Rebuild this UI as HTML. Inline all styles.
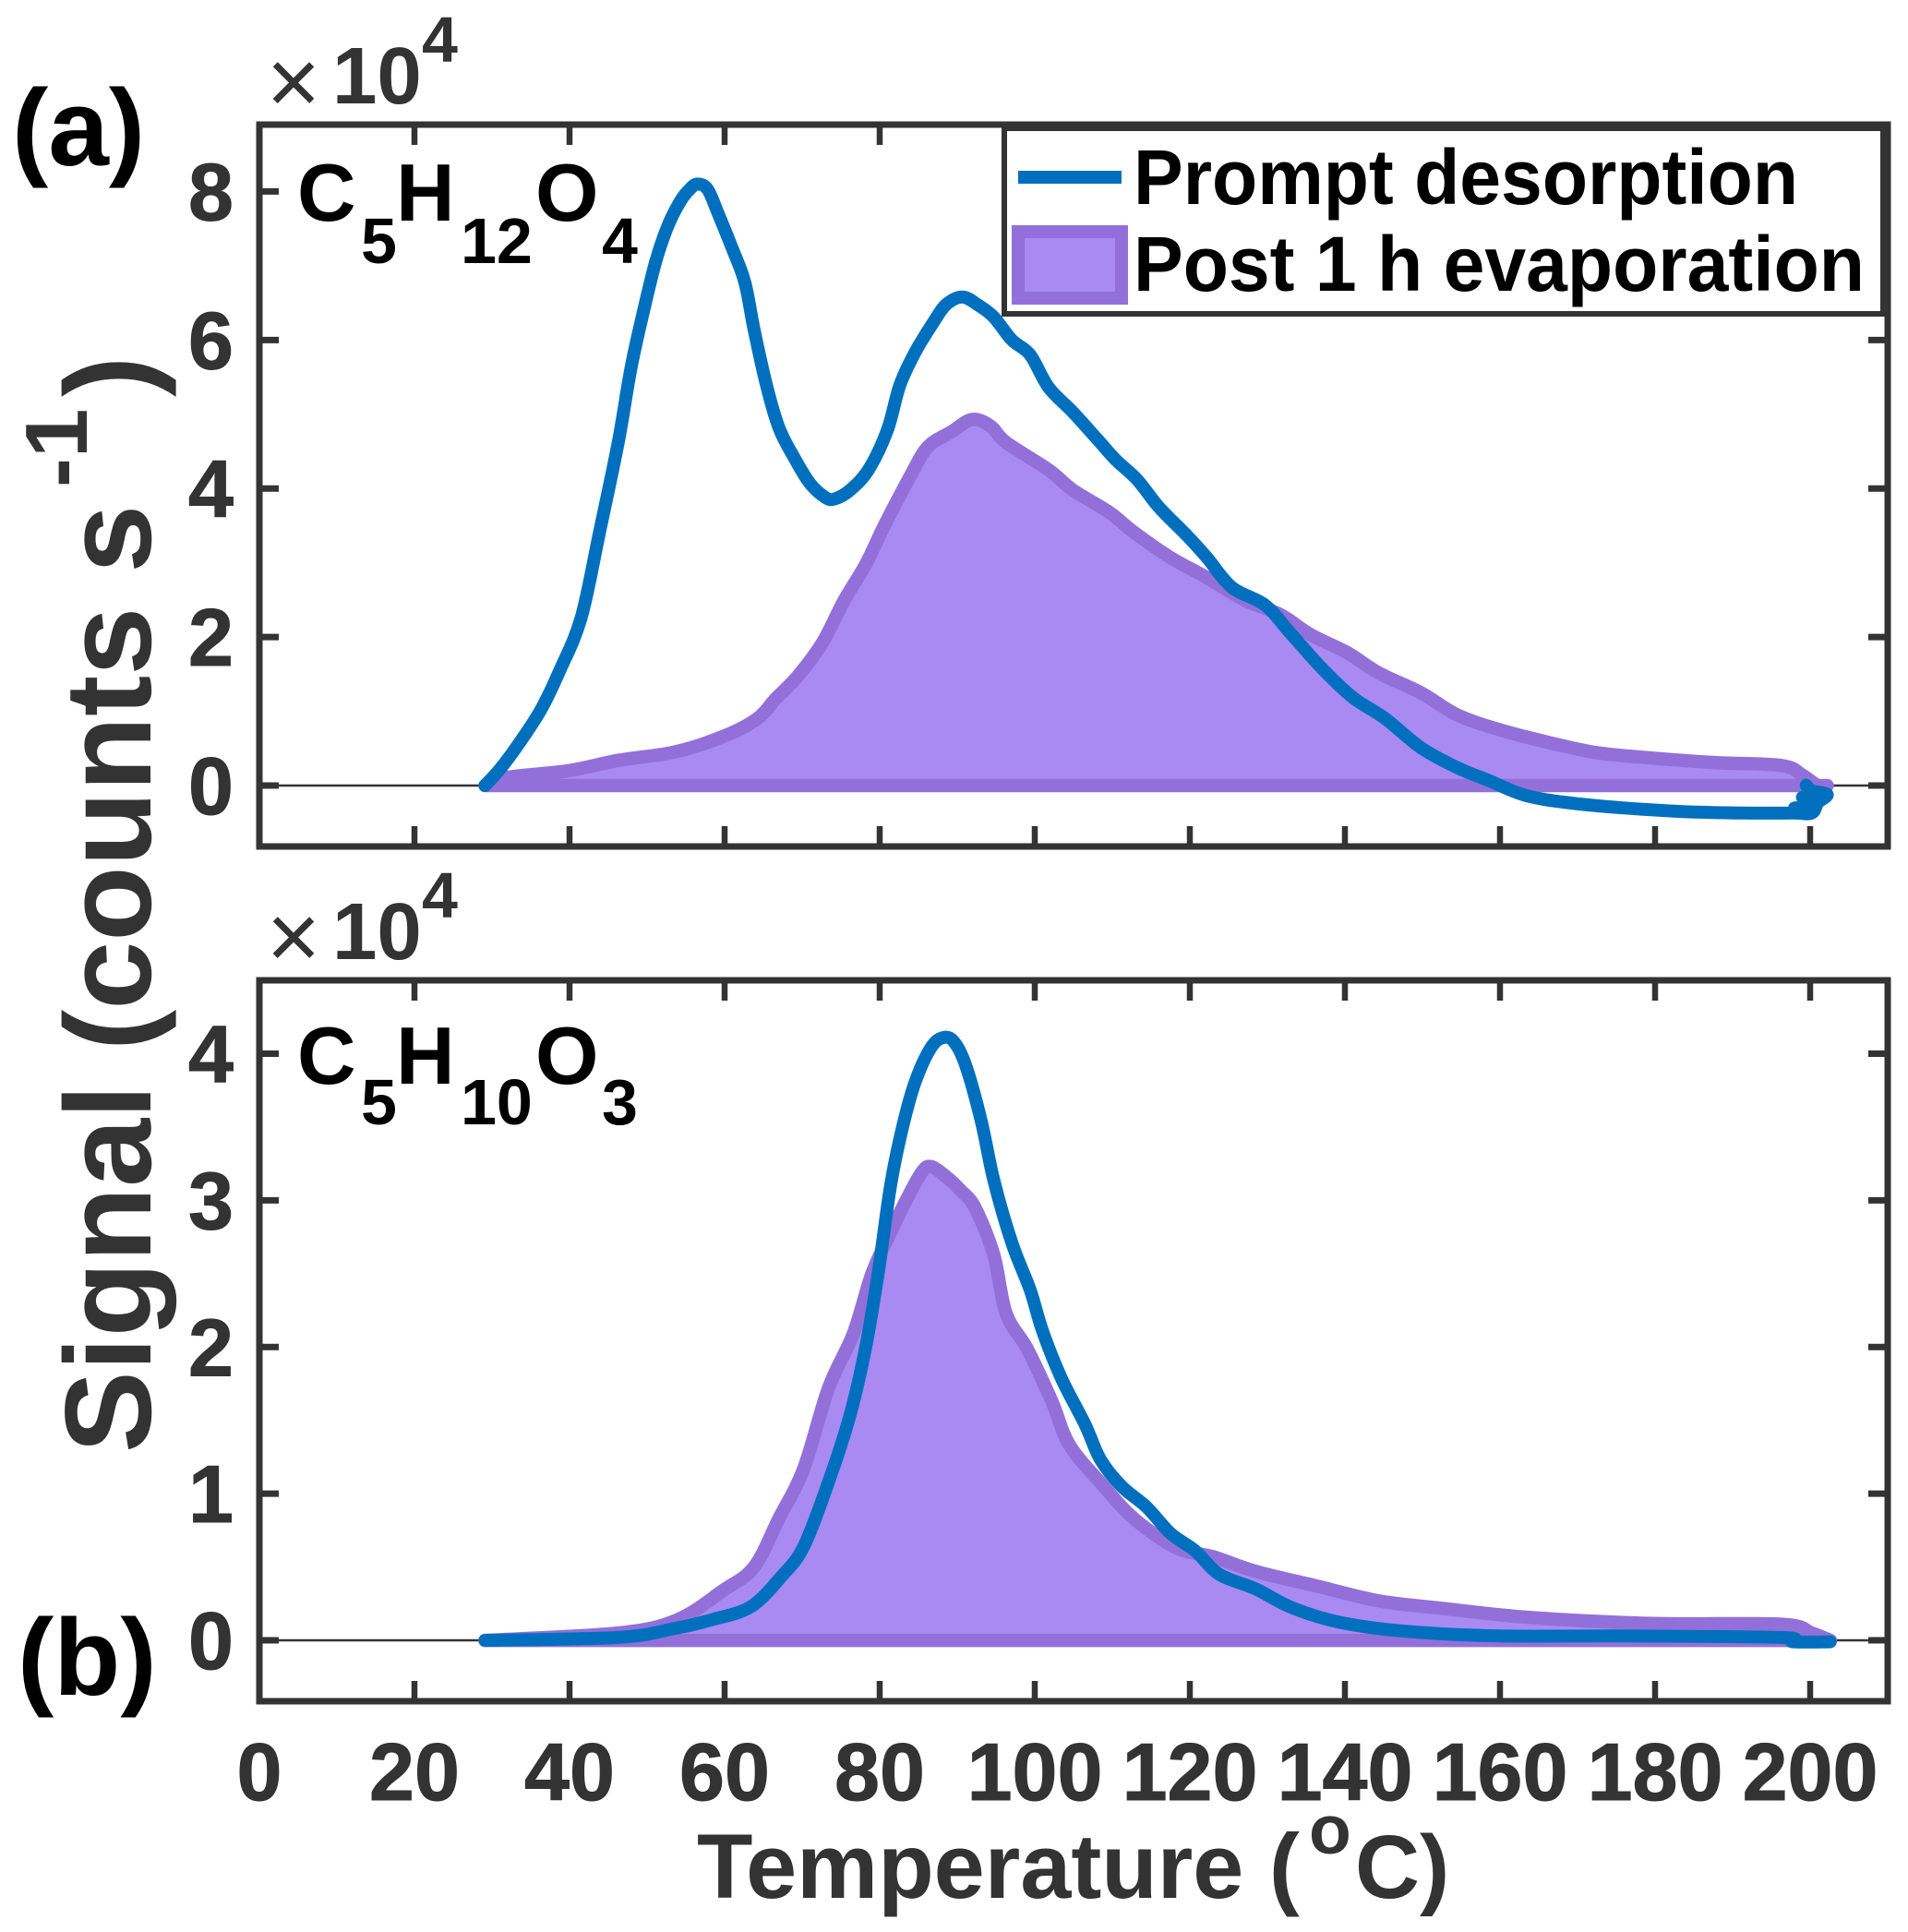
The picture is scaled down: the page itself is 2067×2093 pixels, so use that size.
<!DOCTYPE html>
<html lang="en">
<head>
<meta charset="utf-8">
<title>Thermal desorption signal chart</title>
<style>
html,body{margin:0;padding:0;background:#fff}
svg{display:block;font-family:"Liberation Sans",Arial,sans-serif}
</style>
</head>
<body>
<svg id="chart" width="2067" height="2093" viewBox="0 0 2067 2093" xmlns="http://www.w3.org/2000/svg">
  <rect width="2067" height="2093" fill="#fff"/>
  <g id="panelA"></g>
  <g id="panelB"></g>

  <g>
    <rect x="1088" y="139" width="952" height="201" fill="#fff" stroke="#333" stroke-width="6"/>
    <line x1="1103" x2="1215" y1="192" y2="192" stroke="#0070BE" stroke-width="14"/>
    <rect x="1103" y="251" width="112" height="72" fill="#A98AF2" stroke="#9370D9" stroke-width="14"/>
    <text x="1228" y="221" font-size="84" font-weight="700" fill="#000" textLength="720" lengthAdjust="spacingAndGlyphs">Prompt desorption</text>
    <text x="1228" y="315" font-size="84" font-weight="700" fill="#000" textLength="792" lengthAdjust="spacingAndGlyphs">Post 1 h evaporation</text>
  </g>

  <g fill="#333">
    <text x="318" y="123" font-size="100" text-anchor="middle">×</text>
    <text x="360" y="112" font-size="87" font-weight="700">10</text>
    <text x="457" y="67" font-size="70" font-weight="700">4</text>
  </g>
  <g fill="#333">
    <text x="318" y="1049" font-size="100" text-anchor="middle">×</text>
    <text x="360" y="1039" font-size="87" font-weight="700">10</text>
    <text x="457" y="994" font-size="70" font-weight="700">4</text>
  </g>

  <text x="13" y="179" font-size="118" font-weight="700" fill="#000">(a)</text>
  <text x="19" y="1836" font-size="118" font-weight="700" fill="#000">(b)</text>

  <g font-weight="700" fill="#000">
    <text x="322" y="239" font-size="88">C</text>
    <text x="391" y="285" font-size="70">5</text>
    <text x="429" y="239" font-size="88">H</text>
    <text x="499" y="285" font-size="70">12</text>
    <text x="580" y="239" font-size="88">O</text>
    <text x="652" y="285" font-size="70">4</text>
  </g>
  <g font-weight="700" fill="#000">
    <text x="322" y="1174" font-size="88">C</text>
    <text x="391" y="1218" font-size="70">5</text>
    <text x="429" y="1174" font-size="88">H</text>
    <text x="499" y="1218" font-size="70">10</text>
    <text x="580" y="1174" font-size="88">O</text>
    <text x="652" y="1218" font-size="70">3</text>
  </g>

  <g fill="#333" font-weight="700">
    <text transform="translate(163,1574) rotate(-90)" font-size="133">Signal (counts s</text>
    <text transform="translate(94,528) rotate(-90)" font-size="96">-1</text>
    <text transform="translate(163,430) rotate(-90)" font-size="133">)</text>
  </g>
  <g fill="#333" font-weight="700">
    <text x="755" y="2056" font-size="99">Temperature (</text>
    <text x="1418" y="2008" font-size="75">o</text>
    <text x="1468" y="2056" font-size="97">C)</text>
  </g>
</svg>

<script>
var xTicks = [0, 20, 40, 60, 80, 100, 120, 140, 160, 180, 200];
var yTicksA = [0, 2, 4, 6, 8];
var yTicksB = [0, 1, 2, 3, 4];

var promptTempA = [29.1,31.1,33.5,36.3,38.7,41.5,43.9,46.3,47.9,49.5,51.1,52.7,54.3,55.5,56.5,57.8,59.1,61,62.6,63.8,65.4,67,69,71,73,74.2,76.2,78.6,81,82.6,84.6,87,88.6,90.7,92.7,94.7,97.05,99.4,101.8,104.9,108.1,110.4,113.2,116,119.5,122.2,125.4,129.7,132.9,137.2,141.1,145.1,149.8,154.5,158.5,163.2,168.7,175.8,183.6,191.5,197.8,200.2,201,202.2,200.2,199.5,200.5,199,200.5,198,200];
var promptValA = [0,0.23,0.57,1.02,1.54,2.26,3.43,4.63,5.61,6.37,7.05,7.54,7.87,8.03,8.1,8.03,7.72,7.23,6.78,6.14,5.39,4.82,4.41,4.07,3.88,3.86,3.98,4.26,4.79,5.39,5.84,6.25,6.48,6.58,6.47,6.31,6,5.8,5.36,5.03,4.66,4.39,4.12,3.75,3.38,3.07,2.67,2.43,2.06,1.56,1.18,0.91,0.51,0.24,0.07,-0.13,-0.23,-0.3,-0.35,-0.37,-0.37,-0.37,-0.23,-0.12,-0.07,0,-0.2,-0.16,-0.3,-0.3,-0.35];
var evapTempA = [29.1,31.9,39.9,46.3,53.5,59.8,64.2,66.6,69.4,72.6,75.4,78.2,80.6,83.8,86.2,89.2,91.9,94.3,96.3,101.8,104.9,109.6,112.8,117.5,122.2,127,131.7,135.6,140.3,144.3,149.8,154.5,160,166.3,172.6,179.7,187.6,196.3,199,201,202.2];
var evapValA = [0,0.11,0.2,0.34,0.45,0.66,0.9,1.17,1.47,1.92,2.49,2.98,3.5,4.14,4.56,4.76,4.93,4.84,4.62,4.25,3.98,3.68,3.41,3.07,2.8,2.5,2.3,2.03,1.79,1.52,1.25,0.95,0.75,0.58,0.44,0.37,0.31,0.27,0.14,0,0];

var promptTempB = [29.1,46.3,53.5,58.3,63.4,67.4,70.2,73.4,76.2,78.2,79.8,81.4,83,84.6,86.6,88.2,89.6,91.1,93.1,94.7,97.05,99.4,101,103.4,106.5,108.5,111.2,114.4,117.5,120.7,123.8,128.5,133.3,139.6,148.2,160,175.8,196.3,197.8,202.6];
var promptValB = [0,0.02,0.08,0.14,0.23,0.44,0.64,1.08,1.54,2,2.5,3.1,3.51,3.81,4.04,4.11,4.08,3.92,3.54,3.14,2.71,2.39,2.11,1.79,1.47,1.23,1.05,0.91,0.73,0.61,0.45,0.35,0.22,0.12,0.06,0.03,0.03,0.02,-0.01,-0.01];
var evapTempB = [29.1,46.3,53.9,59.8,63.8,67,70.2,73.4,76.6,79,81.4,83.4,85.4,86.6,88.6,90.4,92.3,94.7,96.3,99,102.2,104.5,108.9,112.8,118.3,123,128.5,136.4,144.3,152.2,164,179.7,196.3,200.2,202.6];
var evapValB = [0,0.05,0.14,0.34,0.5,0.83,1.17,1.72,2.09,2.5,2.78,3,3.19,3.23,3.16,3.07,2.95,2.63,2.23,1.99,1.63,1.33,1.05,0.83,0.63,0.57,0.47,0.37,0.27,0.22,0.155,0.115,0.11,0.05,0];

var NS = 'http://www.w3.org/2000/svg';
var AXIS_COLOR = '#333';
var xMin = 0, xMax = 210, pxLeft = 281, pxRight = 2045;

function xScale(t) {
  return pxLeft + (t - xMin) / (xMax - xMin) * (pxRight - pxLeft);
}
function makeYScale(vMin, vMax, pxBottom, pxTop) {
  return function (v) {
    return pxBottom - (v - vMin) / (vMax - vMin) * (pxBottom - pxTop);
  };
}
function node(tag, parent, attrs) {
  var el = document.createElementNS(NS, tag);
  for (var k in attrs) el.setAttribute(k, attrs[k]);
  parent.appendChild(el);
  return el;
}
function pathFrom(ts, vs, y) {
  var n = ts.length, d = '';
  function px(i) { i = Math.max(0, Math.min(n - 1, i)); return xScale(ts[i]); }
  function py(i) { i = Math.max(0, Math.min(n - 1, i)); return y(vs[i]); }
  d = 'M' + px(0).toFixed(1) + ' ' + py(0).toFixed(1);
  for (var i = 0; i < n - 1; i++) {
    var c1x = px(i) + (px(i + 1) - px(i - 1)) / 6;
    var c1y = py(i) + (py(i + 1) - py(i - 1)) / 6;
    var c2x = px(i + 1) - (px(i + 2) - px(i)) / 6;
    var c2y = py(i + 1) - (py(i + 2) - py(i)) / 6;
    d += 'C' + c1x.toFixed(1) + ' ' + c1y.toFixed(1) + ' ' + c2x.toFixed(1) + ' ' + c2y.toFixed(1) + ' ' + px(i + 1).toFixed(1) + ' ' + py(i + 1).toFixed(1);
  }
  return d;
}
function drawPanel(g, prefix, y, top, bottom, yTicks, evT, evV, prT, prV, showXLabels) {
  var zero = node('line', g, {x1: pxLeft, x2: pxRight, y1: y(0), y2: y(0), stroke: AXIS_COLOR, 'stroke-width': 2.5});
  
  

  var area = node('path', g, {d: pathFrom(evT, evV, y) + 'Z', fill: '#A98AF2', stroke: '#9370D9', 'stroke-width': 14.5, 'stroke-linejoin': 'round'});
  
  

  var line = node('path', g, {d: pathFrom(prT, prV, y), fill: 'none', stroke: '#0070BE', 'stroke-width': 14, 'stroke-linejoin': 'round', 'stroke-linecap': 'round'});
  
  

  var frame = node('rect', g, {x: pxLeft, y: top, width: pxRight - pxLeft, height: bottom - top, fill: 'none', stroke: AXIS_COLOR, 'stroke-width': 7});
  
  

  xTicks.forEach(function (t) {
    var px = xScale(t);
    var tb = node('line', g, {x1: px, x2: px, y1: bottom, y2: bottom - 22, stroke: AXIS_COLOR, 'stroke-width': 6.5});
    
    
    var tt = node('line', g, {x1: px, x2: px, y1: top, y2: top + 22, stroke: AXIS_COLOR, 'stroke-width': 6.5});
    
    
    if (showXLabels) {
      var lab = node('text', g, {x: px, y: 1950, 'text-anchor': 'middle', 'font-size': 88, 'font-weight': 700, fill: AXIS_COLOR, stroke: AXIS_COLOR, 'stroke-width': 1});
      lab.textContent = String(t);
      
      
    }
  });
  yTicks.forEach(function (v) {
    var py = y(v);
    var tl = node('line', g, {x1: pxLeft, x2: pxLeft + 21, y1: py, y2: py, stroke: AXIS_COLOR, 'stroke-width': 7});
    
    
    var tr = node('line', g, {x1: pxRight, x2: pxRight - 21, y1: py, y2: py, stroke: AXIS_COLOR, 'stroke-width': 7});
    
    
    var lab = node('text', g, {x: 253, y: py + 31, 'text-anchor': 'end', 'font-size': 88, 'font-weight': 700, fill: AXIS_COLOR, stroke: AXIS_COLOR, 'stroke-width': 1});
    lab.textContent = String(v);
    
    
  });
}

var yA = makeYScale(-0.82, 8.9, 917, 135);
var yB = makeYScale(-0.415, 4.5, 1843, 1062);
drawPanel(document.getElementById('panelA'), 'panel-a', yA, 135, 917, yTicksA, evapTempA, evapValA, promptTempA, promptValA, false);
drawPanel(document.getElementById('panelB'), 'panel-b', yB, 1062, 1843, yTicksB, evapTempB, evapValB, promptTempB, promptValB, true);
</script>
</body>
</html>
